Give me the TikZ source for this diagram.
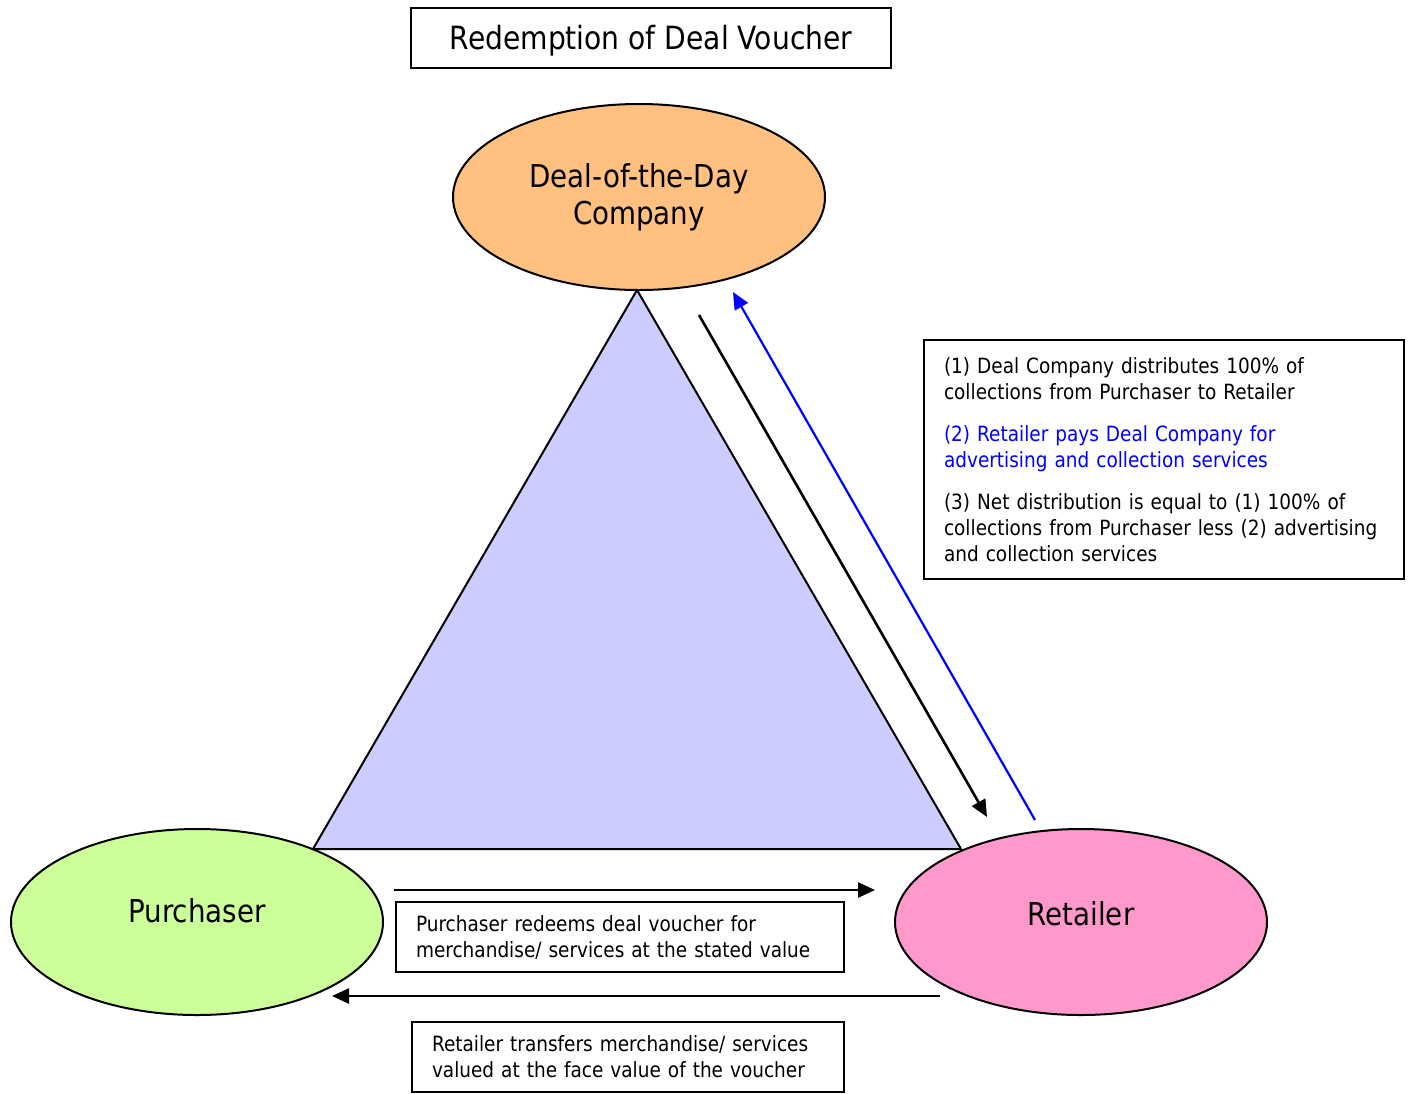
\documentclass[tikz,border=0pt]{standalone}
\usepackage{fontspec}
\setmainfont{DejaVu Sans}[FakeStretch=0.88]
\usetikzlibrary{arrows.meta,shapes.geometric}
\definecolor{dealorange}{RGB}{255,192,128}
\definecolor{trifill}{RGB}{204,204,255}
\definecolor{purgreen}{RGB}{204,255,153}
\definecolor{retpink}{RGB}{255,153,204}
\definecolor{pureblue}{RGB}{0,0,255}
\begin{document}
\begin{tikzpicture}[x=1pt,y=-1pt,
  party/.style={ellipse,draw=black,line width=2pt,minimum width=372pt,minimum height=186pt,inner sep=0pt,align=center,font=\fontsize{31.5}{37}\selectfont},
  textbox/.style={draw=black,line width=2pt,inner xsep=20pt,inner ysep=0pt,align=left,font=\fontsize{21}{26}\selectfont},
  flow/.style={line width=2.6pt,-{Triangle[length=17pt,width=15pt]}},
  bflow/.style={line width=2.2pt,draw=pureblue,-{Triangle[length=17pt,width=15pt]},color=pureblue}]
\useasboundingbox (0,0) rectangle (1410,1093);
% title
\node[draw=black,line width=2pt,minimum width=480pt,minimum height=60pt,inner sep=0pt,font=\fontsize{32}{38}\selectfont] (title) at (651,38) {\smash{\raisebox{-11.5pt}{Redemption of Deal Voucher}}};
% triangle
\coordinate (tA) at (637,290);
\coordinate (tL) at (313,849);
\coordinate (tR) at (961,849);
\draw[fill=trifill,line width=2pt,line join=miter] (tA) -- (tL) -- (tR) -- cycle;
% parties
\node[party,fill=dealorange] (deal) at (639,197) {Deal-of-the-Day\\Company};
\node[party,fill=purgreen] (pur) at (197,922) {\smash{\raisebox{0pt}{Purchaser}}};
\node[party,fill=retpink] (ret) at (1081,922) {\smash{\raisebox{-3pt}{Retailer}}};
% side arrows
\coordinate (b1s) at (699,315);
\coordinate (b1e) at (987,817);
\coordinate (b2s) at (1035,820);
\coordinate (b2e) at (733,292);
\draw[flow] (b1s) -- (b1e);
\draw[bflow] (b2s) -- (b2e);
% bottom arrows
\coordinate (h1s) at (394,890);
\coordinate (h1e) at (875,890);
\coordinate (h2s) at (940,996);
\coordinate (h2e) at (332,996);
\draw[flow] (h1s) -- (h1e);
\draw[flow] (h2s) -- (h2e);
% explanatory boxes
\node[textbox,text width=440pt,minimum height=239pt,anchor=north west] (note) at (923,339)
 {(1) Deal Company distributes 100\% of\\collections from Purchaser to Retailer\\[16pt]
  \textcolor{pureblue}{(2) Retailer pays Deal Company for}\\\textcolor{pureblue}{advertising and collection services}\\[16pt]
  (3) Net distribution is equal to (1) 100\% of\\collections from Purchaser less (2) advertising\\and collection services};
\node[textbox,text width=408pt,minimum height=70pt,anchor=north west] (redeem) at (395,901)
 {Purchaser redeems deal voucher for\\merchandise/ services at the stated value};
\node[textbox,text width=392pt,minimum height=70pt,anchor=north west] (transfer) at (411,1021)
 {Retailer transfers merchandise/ services\\valued at the face value of the voucher};
\end{tikzpicture}
\end{document}
